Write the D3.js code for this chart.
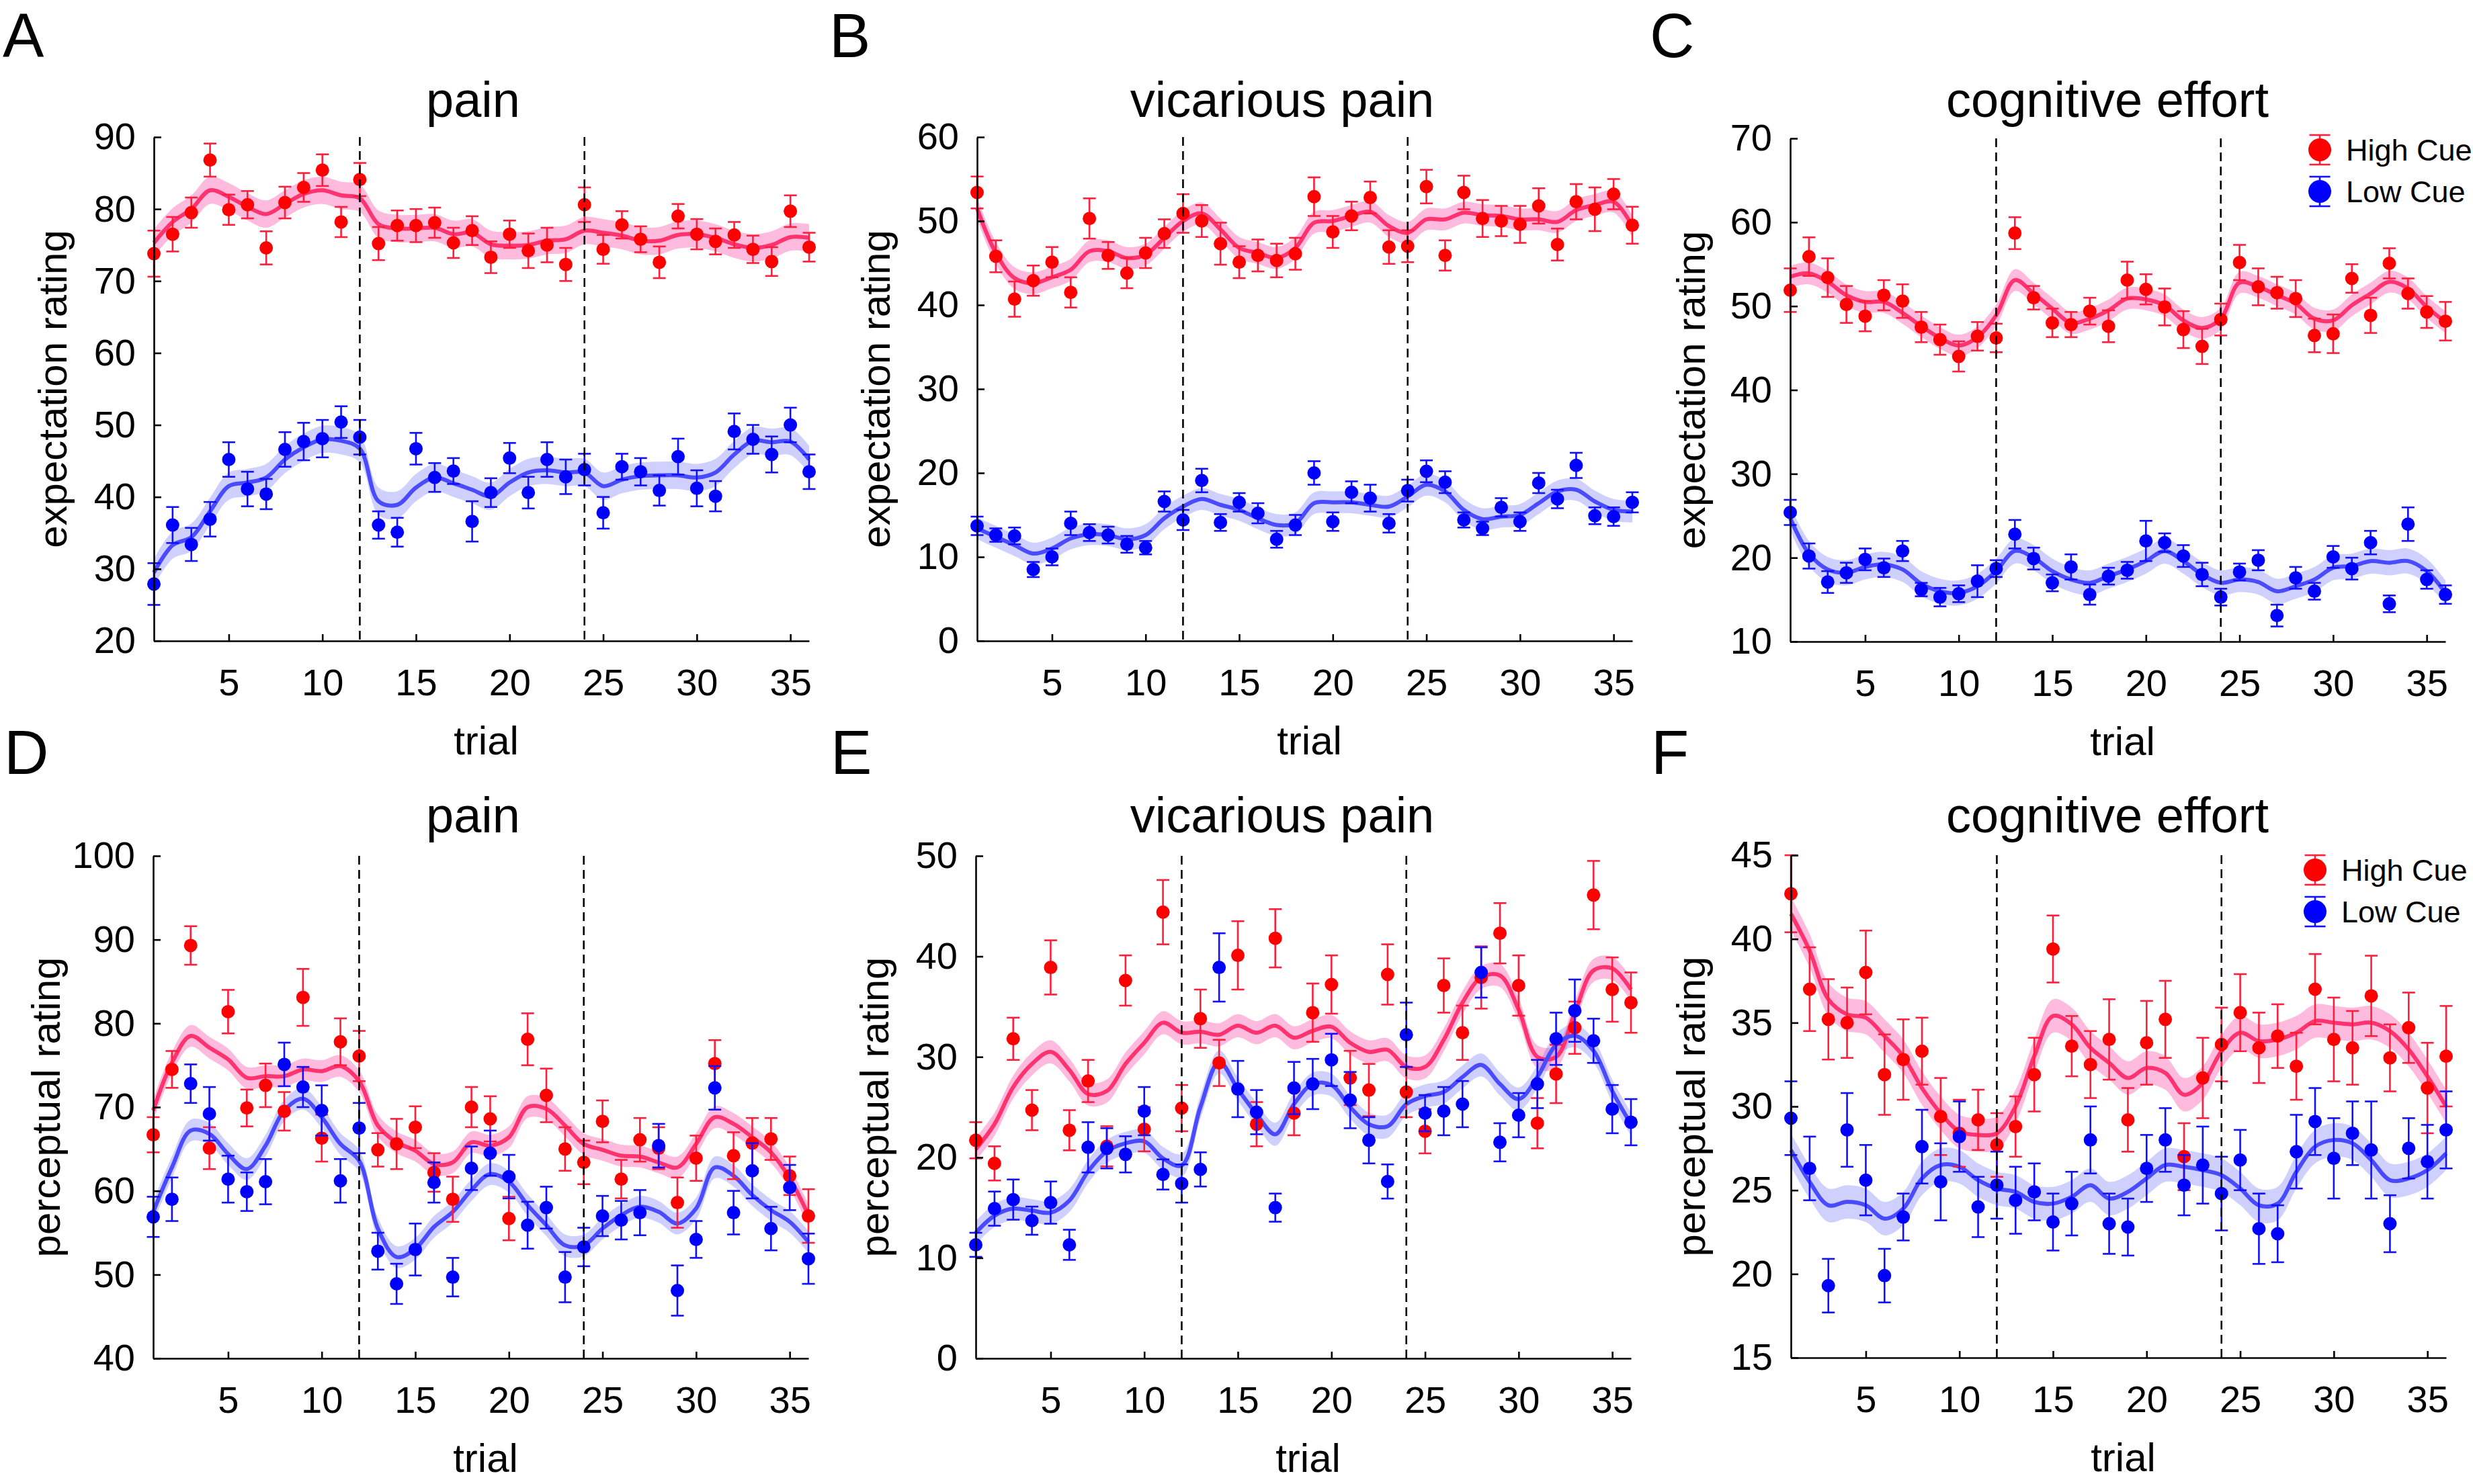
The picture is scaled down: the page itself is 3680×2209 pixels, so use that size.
<!DOCTYPE html>
<html><head><meta charset="utf-8">
<script src="https://cdn.jsdelivr.net/npm/d3@7"></script>
<style>body{margin:0;background:#fff}svg{display:block}</style>
</head><body><svg id="c" width="3680" height="2209"></svg>
<script>
// ---------------- DATA ----------------
const trials = d3.range(1, 37);
const xTickValues = [5, 10, 15, 20, 25, 30, 35];
const blockBounds = [12, 24];
const panelLetters = ["A", "B", "C", "D", "E", "F"];
const panelTitles = ["pain", "vicarious pain", "cognitive effort", "pain", "vicarious pain", "cognitive effort"];
const yAxisLabels = ["expectation rating", "expectation rating", "expectation rating", "perceptual rating", "perceptual rating", "perceptual rating"];
const xAxisLabel = "trial";
const legendLabels = ["High Cue", "Low Cue"];
const yDomains = [[20, 90], [0, 60], [10, 70], [40, 100], [0, 50], [15, 45]];
const yTicksA = [20, 30, 40, 50, 60, 70, 80, 90];
const yTicksB = [0, 10, 20, 30, 40, 50, 60];
const yTicksC = [10, 20, 30, 40, 50, 60, 70];
const yTicksD = [40, 50, 60, 70, 80, 90, 100];
const yTicksE = [0, 10, 20, 30, 40, 50];
const yTicksF = [15, 20, 25, 30, 35, 40, 45];
// band half-widths (SE of smoothed curve) [high, low]
const bandA = [1.9, 1.9], bandB = [1.3, 1.3], bandC = [1.3, 1.5], bandD = [1.3, 1.3], bandE = [1.15, 1.15], bandF = [1.0, 1.0];

const A_high = [73.8,76.5,79.5,86.8,79.9,80.6,74.6,80.9,83.0,85.4,78.2,84.1,75.2,77.7,77.7,78.1,75.3,77.0,73.3,76.5,74.2,75.0,72.3,80.6,74.4,77.8,75.8,72.6,79.0,76.5,75.5,76.4,74.4,72.7,79.7,74.7];
const A_highErr = [3.2,2.4,2.1,2.3,2.1,1.9,2.3,2.2,2.0,2.2,2.1,2.3,2.3,2.1,2.3,2.1,2.1,2.0,2.2,1.9,2.4,2.4,2.3,2.4,2.0,1.9,1.8,2.2,1.7,2.1,1.8,1.8,1.9,2.0,2.2,2.0];
const A_highSmooth = [75.3,78.2,80.0,82.6,81.7,80.3,79.3,80.7,82.1,82.6,81.9,81.5,77.9,77.3,77.3,77.4,76.5,76.7,75.1,74.9,75.0,75.6,75.8,77.0,76.7,76.3,75.6,75.6,76.4,76.5,76.0,75.1,74.6,75.0,76.1,76.0];
const A_low = [27.9,36.1,33.4,36.9,45.2,41.1,40.4,46.6,47.7,48.1,50.4,48.3,36.1,35.1,46.7,42.7,43.6,36.6,40.6,45.4,40.6,45.2,42.8,43.8,37.8,44.2,43.5,40.9,45.6,41.2,40.1,49.1,48.0,45.9,50.0,43.5];
const A_lowErr = [2.9,2.5,2.3,2.4,2.4,2.4,2.1,2.4,2.6,2.6,2.2,2.4,1.9,2.0,2.2,2.0,1.8,2.8,2.0,2.1,2.2,2.4,2.4,2.2,2.2,1.8,1.9,2.1,2.5,2.5,2.1,2.5,2.0,2.5,2.4,2.4];
const A_lowSmooth = [29.5,33.3,34.4,38.0,41.5,42.0,42.7,45.2,46.9,48.0,47.8,46.7,39.4,38.9,41.3,42.7,41.9,41.0,40.1,42.0,43.4,43.7,43.4,43.4,41.5,42.4,42.9,43.0,43.0,42.7,43.4,45.9,47.8,47.6,47.7,45.2];

const B_high = [53.4,45.8,40.7,42.9,45.1,41.5,50.3,45.9,43.8,46.2,48.5,50.9,50.0,47.3,45.1,45.9,45.3,46.1,52.9,48.7,50.6,52.8,46.9,47.0,54.1,45.9,53.4,50.3,50.0,49.6,51.8,47.2,52.3,51.4,53.2,49.5];
const B_highErr = [1.9,1.9,2.1,1.8,1.8,1.8,2.4,1.6,1.8,1.8,1.7,2.3,1.9,2.5,1.9,1.9,2.0,1.9,2.3,1.9,1.7,1.9,2.0,1.9,2.0,1.8,2.0,2.2,1.8,2.2,2.1,1.9,2.1,2.6,1.8,2.2];
const B_highSmooth = [51.5,46.2,43.2,42.6,43.3,44.2,46.4,46.4,45.6,46.0,48.0,50.0,50.9,49.0,46.8,46.2,45.6,46.8,49.8,50.0,50.6,51.1,49.4,48.6,50.2,50.2,51.0,50.7,50.6,50.2,50.2,49.9,51.3,51.9,52.3,49.4];
const B_low = [13.7,12.6,12.5,8.5,10.0,14.0,12.9,12.6,11.5,11.1,16.6,14.4,19.1,14.1,16.5,15.2,12.1,13.8,20.0,14.2,17.7,17.0,14.0,17.9,20.2,18.9,14.4,13.4,15.9,14.2,18.8,16.9,20.9,14.9,14.8,16.5];
const B_lowErr = [1.1,0.8,1.0,0.9,1.0,1.4,1.0,1.0,1.0,0.8,1.2,1.2,1.4,1.0,1.1,1.2,1.0,1.2,1.4,1.1,1.3,1.6,1.1,1.3,1.3,1.3,0.9,0.8,1.1,1.1,1.2,1.1,1.5,1.0,1.1,1.2];
const B_lowSmooth = [13.4,12.4,11.4,10.4,11.0,12.2,12.7,12.6,12.1,12.6,14.6,16.0,16.9,16.2,15.6,14.6,13.8,14.0,16.4,16.5,16.5,16.2,16.0,17.2,18.6,17.8,15.6,14.5,14.8,15.0,16.4,17.8,18.0,16.6,15.6,15.4];

const C_high = [51.9,55.9,53.4,50.2,48.8,51.3,50.6,47.5,46.0,44.0,46.4,46.2,58.7,51.0,48.0,47.8,49.4,47.6,53.1,52.0,49.9,47.2,45.2,48.4,55.2,52.3,51.6,50.9,46.5,46.7,53.3,48.9,55.1,51.5,49.3,48.2];
const C_highErr = [2.6,2.3,2.3,2.2,1.8,1.8,2.0,1.8,1.8,1.8,1.7,1.7,1.9,1.4,1.7,1.5,1.6,1.9,2.2,1.8,2.2,2.2,2.1,1.9,2.1,2.2,1.9,2.2,2.0,2.3,1.7,2.1,1.8,1.8,1.9,2.3];
const C_highSmooth = [53.5,53.9,52.9,51.3,50.5,50.5,49.2,47.6,46.2,45.3,46.3,48.9,53.1,51.5,49.7,48.0,48.5,49.5,50.9,50.8,50.1,48.3,47.4,48.5,52.8,52.3,51.3,50.3,48.5,48.3,50.1,51.5,52.9,52.1,49.9,48.1];
const C_low = [25.4,20.2,17.1,18.2,19.8,18.8,20.8,16.2,15.3,15.7,17.2,18.7,22.8,19.9,17.0,18.9,15.6,17.8,18.5,22.0,21.8,20.2,18.0,15.3,18.3,19.7,13.1,17.6,16.0,20.1,18.7,21.8,14.5,24.0,17.4,15.6];
const C_lowErr = [1.5,1.5,1.3,1.2,1.3,1.1,1.2,0.8,1.1,1.0,1.9,1.0,1.7,1.3,1.0,1.5,1.2,1.0,1.0,2.4,1.1,1.3,1.4,1.0,1.0,1.2,1.3,1.3,1.0,1.3,1.3,1.4,1.0,2.0,1.1,1.1];
const C_lowSmooth = [24.7,20.5,18.6,18.2,18.9,19.2,18.6,16.9,16.0,15.8,16.6,18.4,20.8,20.0,18.4,17.4,17.0,17.8,18.6,19.6,20.8,19.6,18.0,17.0,17.4,17.1,16.0,16.6,17.4,18.8,19.0,19.6,19.4,19.6,18.4,15.8];

const D_high = [66.7,74.5,89.3,65.1,81.4,69.9,72.6,69.5,83.1,66.3,77.8,76.1,64.9,65.6,67.6,62.2,59.0,70.0,68.6,56.7,78.1,71.4,65.0,63.4,68.3,61.4,66.1,65.1,58.6,63.9,75.2,64.2,65.7,66.2,61.8,57.0];
const D_highErr = [2.1,2.2,2.3,2.5,2.6,2.2,2.6,2.3,3.4,2.8,2.8,3.0,2.0,3.0,2.5,2.3,2.7,2.4,2.7,2.6,3.1,3.2,2.6,2.6,2.5,2.3,2.6,2.5,3.0,2.7,2.8,2.8,3.0,2.5,2.3,3.2];
const D_highSmooth = [69.6,75.3,78.5,77.1,75.7,73.5,73.7,73.7,74.5,74.3,74.9,73.1,67.8,65.8,64.8,63.2,63.4,65.8,65.4,66.4,70.0,69.8,67.8,65.6,64.9,64.2,64.1,63.4,62.8,65.6,68.8,68.0,66.4,64.6,61.5,57.1];
const D_low = [56.9,59.0,72.8,69.2,61.4,59.9,61.1,75.1,72.4,69.6,61.2,67.5,52.8,48.9,53.0,61.0,49.7,62.7,64.5,61.7,55.9,58.0,49.7,53.3,57.0,56.5,57.4,65.4,48.1,54.2,72.3,57.4,62.4,55.5,60.4,51.9];
const D_lowErr = [2.4,2.6,2.3,3.2,2.8,2.3,2.7,2.6,2.4,3.0,2.6,3.0,2.2,2.4,3.1,2.4,2.3,2.6,2.7,2.6,2.8,2.5,3.0,2.3,2.4,2.3,2.7,2.6,3.0,2.2,2.6,2.6,3.3,2.6,2.7,3.0];
const D_lowSmooth = [57.5,62.8,67.2,66.8,64.4,62.6,65.4,69.6,71.0,68.8,65.6,63.6,55.5,52.1,53.1,55.7,57.5,60.1,62.0,61.1,58.3,55.9,53.5,53.5,55.5,57.1,58.1,57.5,56.1,57.9,62.8,61.8,59.5,57.7,56.3,53.9];

const E_high = [21.7,19.4,31.8,24.7,38.9,22.7,27.6,21.1,37.6,22.8,44.4,24.9,33.8,29.4,40.1,23.3,41.8,24.4,34.4,37.2,27.9,26.7,38.2,26.5,22.6,37.1,32.4,37.9,42.3,37.1,23.4,28.3,32.9,46.1,36.7,35.4];
const E_highErr = [1.8,1.7,2.1,2.0,2.7,2.0,2.1,2.0,2.5,2.2,3.2,2.3,2.9,2.3,3.4,2.2,2.9,2.2,2.9,2.9,2.7,2.6,3.0,2.5,2.2,2.7,2.7,3.1,3.0,3.0,2.5,2.9,2.6,3.4,3.2,3.0];
const E_highSmooth = [20.8,23.3,27.0,29.3,30.5,28.7,26.3,26.6,29.3,31.4,33.4,32.4,32.5,32.2,33.1,32.4,33.1,31.9,32.6,33.0,31.4,30.5,30.7,29.0,29.0,31.7,35.4,37.9,38.1,34.7,30.0,30.0,34.4,38.6,38.8,36.7];
const E_low = [11.3,14.9,15.8,13.7,15.5,11.3,21.0,20.9,20.3,24.6,18.3,17.4,18.8,38.9,26.8,24.5,15.0,26.9,27.3,29.7,25.7,21.7,17.6,32.2,24.4,24.6,25.3,38.4,21.5,24.2,27.3,31.8,34.6,31.6,24.8,23.5];
const E_lowErr = [1.2,1.7,2.0,1.4,2.1,1.5,2.5,2.0,1.8,2.4,1.5,1.9,1.7,3.4,2.8,2.2,1.4,2.6,2.5,2.6,2.8,2.3,1.7,3.2,1.8,2.4,2.3,2.5,1.9,2.2,2.4,2.6,3.1,2.2,2.4,2.3];
const E_lowSmooth = [12.5,14.2,14.9,14.7,14.5,15.7,18.6,20.6,21.4,21.6,19.9,19.2,25.0,29.5,26.8,24.3,22.3,25.3,27.3,27.2,25.0,23.3,23.1,25.3,26.1,26.5,28.0,29.2,27.3,25.8,28.0,31.2,32.1,30.6,26.6,23.3];

const F_high = [42.7,37.0,35.2,35.0,38.0,31.9,32.8,33.3,29.4,28.4,29.2,27.7,28.8,31.9,39.4,33.6,32.5,34.0,29.2,33.8,35.2,27.0,31.7,33.7,35.6,33.5,34.2,32.4,37.0,34.0,33.5,36.6,32.9,34.7,31.1,33.0];
const F_highErr = [2.3,2.5,2.4,2.1,2.5,2.4,2.4,2.0,2.3,2.0,1.8,1.9,1.8,2.2,2.0,1.8,2.0,2.4,1.9,2.5,2.3,2.0,2.4,2.2,2.3,2.1,1.9,2.0,2.1,2.5,2.2,2.4,2.0,2.1,2.7,3.0];
const F_highSmooth = [41.5,39.3,36.4,35.5,35.3,34.2,33.0,31.1,29.6,28.5,28.3,28.4,30.0,33.0,35.4,34.9,33.5,32.6,31.7,32.3,32.0,30.7,31.4,33.3,34.4,33.9,34.0,34.4,35.1,35.0,34.9,35.0,34.5,33.4,31.8,30.0];
const F_low = [29.3,26.3,19.3,28.6,25.6,19.9,23.4,27.6,25.5,28.2,24.0,25.3,24.4,24.9,23.1,24.2,28.0,23.0,22.8,26.3,28.0,25.3,26.5,24.8,26.8,22.7,22.4,27.3,29.1,26.9,28.4,27.4,23.0,27.5,26.7,28.6];
const F_lowErr = [2.2,1.9,1.6,2.2,2.1,1.6,1.4,2.2,2.3,2.1,1.8,2.0,2.0,1.7,1.7,1.9,2.0,1.8,1.7,2.0,1.9,1.8,2.3,2.2,1.8,2.1,1.7,2.2,2.0,2.4,1.9,2.9,1.7,1.8,2.2,2.3];
const F_lowSmooth = [27.4,25.5,24.1,24.3,24.1,23.3,23.9,25.7,26.5,26.4,25.6,25.1,24.9,24.3,24.2,24.6,25.3,24.5,24.9,25.7,26.5,26.4,26.2,25.9,25.1,24.1,24.2,26.1,27.6,28.0,27.8,26.8,25.6,25.7,26.2,27.2];

// ---------------- LAYOUT / STYLE ----------------
const FONT = '"Liberation Sans", Arial, Helvetica, sans-serif';
const boxes = [
  {x0: 229, x1: 1204, y0: 204, y1: 954},
  {x0: 1454, x1: 2429, y0: 204, y1: 954},
  {x0: 2664, x1: 3639, y0: 206, y1: 955},
  {x0: 228, x1: 1203, y0: 1274, y1: 2022},
  {x0: 1452, x1: 2427, y0: 1274, y1: 2022},
  {x0: 2665, x1: 3640, y0: 1273, y1: 2021}
];
const titleX = [704, 1908, 3136, 704, 1908, 3136];
const titleY = [148, 148, 148, 1213, 1213, 1213];
const letterX = [4, 1234, 2455, 6, 1236, 2457];
const letterY = [85, 85, 85, 1152, 1152, 1152];
const yLabelOffset = [151, 151, 148, 160, 151, 149];
const legendPos = {2: [3452, 223], 5: [3445, 1295]};

const HIGH = {dot: "#ff0000", err: "#ff1e3c", line: "#ff3370", band: "rgb(255,105,180)", bandOp: 0.45};
const LOW = {dot: "#0000ff", err: "#1010ff", line: "#4a4aff", band: "rgb(100,100,255)", bandOp: 0.3};

const panels = [
  {yTicks: yTicksA, band: bandA, series: [[A_high, A_highErr, A_highSmooth], [A_low, A_lowErr, A_lowSmooth]]},
  {yTicks: yTicksB, band: bandB, series: [[B_high, B_highErr, B_highSmooth], [B_low, B_lowErr, B_lowSmooth]]},
  {yTicks: yTicksC, band: bandC, series: [[C_high, C_highErr, C_highSmooth], [C_low, C_lowErr, C_lowSmooth]]},
  {yTicks: yTicksD, band: bandD, series: [[D_high, D_highErr, D_highSmooth], [D_low, D_lowErr, D_lowSmooth]]},
  {yTicks: yTicksE, band: bandE, series: [[E_high, E_highErr, E_highSmooth], [E_low, E_lowErr, E_lowSmooth]]},
  {yTicks: yTicksF, band: bandF, series: [[F_high, F_highErr, F_highSmooth], [F_low, F_lowErr, F_lowSmooth]]}
];

const svg = d3.select("#c");
svg.append("rect").attr("width", 3680).attr("height", 2209).attr("fill", "#fff");

panels.forEach((p, pi) => {
  const b = boxes[pi];
  const g = svg.append("g");
  const x = d3.scaleLinear().domain([1, 36]).range([b.x0, b.x1]);
  const y = d3.scaleLinear().domain(yDomains[pi]).range([b.y1, b.y0]);
  const styles = [HIGH, LOW];
  const curve = d3.curveCatmullRom.alpha(0.5);

  // bands
  p.series.forEach((s, si) => {
    const se = p.band[si];
    const area = d3.area().curve(curve)
      .x((d, i) => x(trials[i])).y0(d => y(d - se)).y1(d => y(d + se));
    g.append("path").datum(s[2]).attr("d", area)
      .attr("fill", styles[si].band).attr("fill-opacity", styles[si].bandOp);
  });
  // smooth lines
  p.series.forEach((s, si) => {
    const line = d3.line().curve(curve).x((d, i) => x(trials[i])).y(d => y(d));
    g.append("path").datum(s[2]).attr("d", line).attr("fill", "none")
      .attr("stroke", styles[si].line).attr("stroke-width", 6).attr("stroke-linejoin", "round");
  });
  // error bars and points
  p.series.forEach((s, si) => {
    const st = styles[si];
    const data = s[0].map((v, i) => ({t: trials[i], v: v, e: s[1][i]}));
    const eg = g.append("g").attr("stroke", st.err).attr("stroke-width", 2.6);
    eg.selectAll(".stem").data(data).join("line")
      .attr("x1", d => x(d.t)).attr("x2", d => x(d.t))
      .attr("y1", d => y(d.v + d.e)).attr("y2", d => y(d.v - d.e));
    eg.selectAll(".capT").data(data).join("line")
      .attr("x1", d => x(d.t) - 9.5).attr("x2", d => x(d.t) + 9.5)
      .attr("y1", d => y(d.v + d.e)).attr("y2", d => y(d.v + d.e));
    eg.selectAll(".capB").data(data).join("line")
      .attr("x1", d => x(d.t) - 9.5).attr("x2", d => x(d.t) + 9.5)
      .attr("y1", d => y(d.v - d.e)).attr("y2", d => y(d.v - d.e));
    g.append("g").selectAll("circle").data(data).join("circle")
      .attr("cx", d => x(d.t)).attr("cy", d => y(d.v)).attr("r", 10).attr("fill", st.dot);
  });

  // axes
  const xa = d3.axisBottom(x).tickValues(xTickValues).tickSize(-10).tickPadding(41).tickSizeOuter(0);
  const gx = g.append("g").attr("transform", `translate(0,${b.y1})`).call(xa);
  const ya = d3.axisLeft(y).tickValues(p.yTicks).tickSize(-11).tickPadding(27).tickSizeOuter(0);
  const gy = g.append("g").attr("transform", `translate(${b.x0},0)`).call(ya);
  [gx, gy].forEach(a => {
    a.attr("font-size", 56).attr("font-family", FONT);
    a.select(".domain").attr("stroke", "#000").attr("stroke-width", 2.6);
    a.selectAll(".tick line").attr("stroke", "#000").attr("stroke-width", 2.6);
    a.selectAll(".tick text").attr("fill", "#000");
  });

  // dashed block boundaries
  g.selectAll(".blk").data(blockBounds).join("line")
    .attr("x1", d => x(d)).attr("x2", d => x(d))
    .attr("y1", b.y0).attr("y2", b.y1)
    .attr("stroke", "#000").attr("stroke-width", 2.6).attr("stroke-dasharray", "13,8");

  // texts
  g.append("text").attr("x", titleX[pi]).attr("y", titleY[pi]).attr("text-anchor", "middle")
    .attr("dominant-baseline", "central").attr("font-family", FONT).attr("font-size", 74).text(panelTitles[pi]);
  g.append("text").attr("x", (b.x0 + b.x1) / 2 + 7).attr("y", b.y1 + 148).attr("text-anchor", "middle")
    .attr("dominant-baseline", "central").attr("font-family", FONT).attr("font-size", 60).text(xAxisLabel);
  const cy = (b.y0 + b.y1) / 2, cx = b.x0 - yLabelOffset[pi];
  g.append("text").attr("transform", `translate(${cx},${cy}) rotate(-90)`).attr("text-anchor", "middle")
    .attr("dominant-baseline", "central").attr("font-family", FONT).attr("font-size", 60).text(yAxisLabels[pi]);
  g.append("text").attr("x", letterX[pi]).attr("y", letterY[pi]).attr("font-family", FONT)
    .attr("font-size", 92).text(panelLetters[pi]);

  // legend
  if (legendPos[pi]) {
    const [lx, ly] = legendPos[pi];
    legendLabels.forEach((lab, li) => {
      const st = styles[li];
      const yy = ly + li * 62;
      const lg = g.append("g");
      lg.append("line").attr("x1", lx).attr("x2", lx).attr("y1", yy - 22).attr("y2", yy + 22).attr("stroke", st.err).attr("stroke-width", 2.6);
      lg.append("line").attr("x1", lx - 15.5).attr("x2", lx + 15.5).attr("y1", yy - 22).attr("y2", yy - 22).attr("stroke", st.err).attr("stroke-width", 2.6);
      lg.append("line").attr("x1", lx - 15.5).attr("x2", lx + 15.5).attr("y1", yy + 22).attr("y2", yy + 22).attr("stroke", st.err).attr("stroke-width", 2.6);
      lg.append("circle").attr("cx", lx).attr("cy", yy).attr("r", 17).attr("fill", st.dot);
      lg.append("text").attr("x", lx + 39).attr("y", yy).attr("dominant-baseline", "central")
        .attr("font-family", FONT).attr("font-size", 45).text(lab);
    });
  }
});
</script></body></html>
